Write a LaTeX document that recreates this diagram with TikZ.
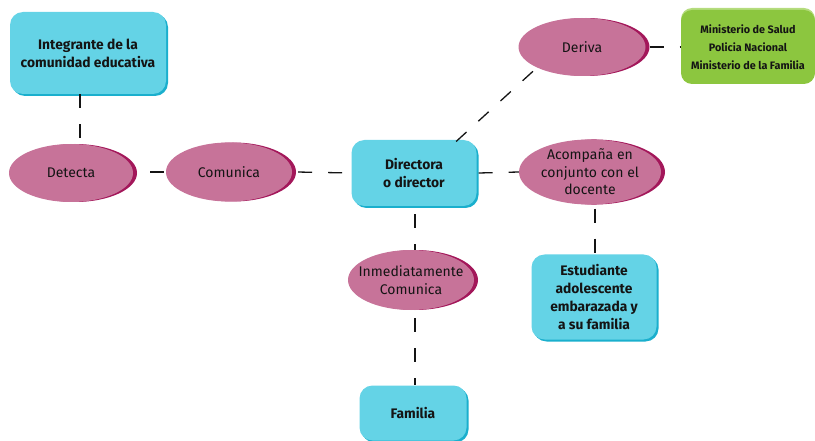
\documentclass[tikz,border=0pt]{standalone}
\usepackage{fontspec}
\setmainfont{Fira Sans}
\usetikzlibrary{shapes.geometric,shadows}
\definecolor{cyanbox}{HTML}{64D3E6}
\definecolor{cyandark}{HTML}{1AAFCD}
\definecolor{pinkell}{HTML}{C77399}
\definecolor{pinkdark}{HTML}{A3175A}
\definecolor{greenbox}{HTML}{8CC63F}
\definecolor{greenlight}{HTML}{B5DC7E}
\definecolor{inkc}{HTML}{141414}
\tikzset{
  cbox/.style={rectangle, rounded corners=13pt, fill=cyanbox, draw=none,
    general shadow={fill=cyandark, shadow xshift=2pt, shadow yshift=-2pt},
    align=center, font=\bfseries\fontsize{13.8}{18}\selectfont, text=inkc, inner sep=0pt},
  gbox/.style={rectangle, rounded corners=11pt, fill=greenbox, draw=none,
    general shadow={fill=greenlight, shadow xshift=0pt, shadow yshift=2pt},
    align=center, font=\bfseries\fontsize{10.8}{18}\selectfont, text=inkc, inner sep=0pt},
  pell/.style={ellipse, fill=pinkell, draw=none,
    general shadow={fill=pinkdark, shadow xshift=4pt, shadow yshift=0pt},
    align=center, font=\fontsize{14}{17.5}\selectfont, text=inkc, inner sep=0pt},
  link/.style={draw=inkc, line width=1.3pt, dash pattern=on 14pt off 16pt}
}
\begin{document}
\begin{tikzpicture}[x=1pt,y=-1pt]
\useasboundingbox (0,0) rectangle (815,441);
% boxes
\node[cbox, minimum width=156pt, minimum height=82pt] (integ) at (88,53) {Integrante de la\\comunidad educativa};
\node[cbox, minimum width=125pt, minimum height=66pt] (dir) at (414,173) {Directora\\o director};
\node[cbox, minimum width=125pt, minimum height=85pt] (est) at (594,297) {Estudiante\\adolescente\\embarazada y\\a su familia};
\node[cbox, minimum width=107pt, minimum height=55pt] (fam) at (413,413) {Familia};
\node[gbox, minimum width=134pt, minimum height=74pt] (min) at (748,47) {Ministerio de Salud\\Policia Nacional\\Ministerio de la Familia};
% ellipses
\node[pell, minimum width=124pt, minimum height=58pt] (det) at (71,173) {Detecta};
\node[pell, minimum width=126pt, minimum height=59pt] (com) at (229,172) {Comunica};
\node[pell, minimum width=127pt, minimum height=58pt] (der) at (582,47) {Deriva};
\node[pell, minimum width=142pt, minimum height=63pt, inner xsep=-8pt] (aco) at (590,172) {Acompaña en\\conjunto con el\\docente};
\node[pell, minimum width=126pt, minimum height=60pt, inner xsep=-14pt] (inm) at (411,280) {Inmediatamente\\Comunica};
% connectors
\draw[link] (integ.south -| 80,0) -- (det.north -| 80,0);
\draw[link, dash phase=-13pt] (det.east |- 0,172) ++(4pt,0) -- (com.west |- 0,172);
\draw[link, dash phase=-2pt] (com.east) ++(4pt,0) -- (dir.west);
\draw[link] (dir.east) ++(2pt,0) -- (aco.west);
\draw[link, dash phase=-2pt] (dir.north east) ++(-22pt,-3pt) -- (der.south west);
\draw[link] (der.east) ++(4pt,0) -- (min.west);
\draw[link, dash phase=-4pt] (aco.south -| 595,0) -- (est.north -| 595,0);
\draw[link, dash phase=-10pt] (dir.south -| 415,0) ++(0,2pt) -- (inm.north -| 415,0);
\draw[link, dash phase=-8pt] (inm.south -| 415,0) -- (fam.north -| 415,0);
\end{tikzpicture}
\end{document}
